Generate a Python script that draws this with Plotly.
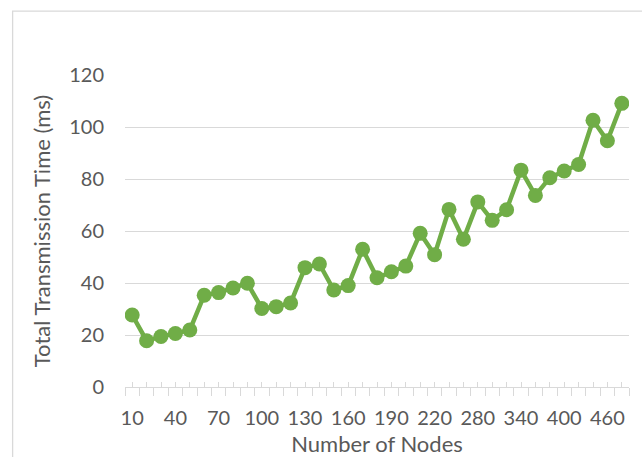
import plotly.graph_objects as go

# Node counts along the category axis and the measured transmission times (ms)
nodes = list(range(10, 230, 10)) + list(range(240, 500, 20))
times_ms = [27.7, 17.8, 19.4, 20.6, 21.9, 35.3, 36.3, 38.1, 39.9, 30.2,
            30.9, 32.3, 45.9, 47.3, 37.3, 39.0, 53.0, 42.0, 44.3, 46.5,
            59.1, 50.9, 68.3, 56.8, 71.2, 64.1, 68.2, 83.4, 73.7, 80.5,
            83.1, 85.6, 102.6, 94.7, 109.1]
label_every = 3
y_ticks = [0, 20, 40, 60, 80, 100, 120]

pos = list(range(len(nodes)))
tick_text = [str(n) if i % label_every == 0 else "" for i, n in enumerate(nodes)]
boundaries = [i - 0.5 for i in range(len(nodes) + 1)]

GREEN = "#70AD47"
GRID = "#D9D9D9"
TEXT = "#595959"
FONT = "Lato, Calibri, sans-serif"

fig = go.Figure()
fig.add_trace(go.Scatter(
    x=pos, y=times_ms, mode="lines+markers",
    line=dict(color=GREEN, width=4.5),
    marker=dict(color=GREEN, size=15),
    hoverinfo="skip", showlegend=False,
))
# invisible companion trace so the boundary-tick axis is laid out
fig.add_trace(go.Scatter(
    x=pos, y=times_ms, xaxis="x2", mode="markers",
    marker=dict(opacity=0), hoverinfo="skip", showlegend=False,
))

rng = [-0.5, len(nodes) - 0.5]
fig.update_layout(
    width=642, height=457,
    margin=dict(l=125, r=13, t=75, b=70),
    paper_bgcolor="white", plot_bgcolor="white",
    font=dict(family=FONT, color=TEXT),
    xaxis=dict(
        range=rng, tickmode="array", tickvals=pos, ticktext=tick_text,
        ticks="inside", ticklen=5, tickwidth=1.3, tickcolor=GRID,
        showline=True, linecolor=GRID, linewidth=1.3,
        showgrid=False, zeroline=False, automargin=False,
        tickfont=dict(size=20, color=TEXT, family=FONT),
        ticklabelstandoff=13,
        title=dict(text="Number of Nodes", font=dict(size=22, color=TEXT, family=FONT),
                   standoff=9),
    ),
    xaxis2=dict(
        overlaying="x", anchor="y", matches="x", range=rng,
        tickmode="array", tickvals=boundaries, automargin=False,
        ticks="outside", ticklen=8, tickwidth=1.3, tickcolor=GRID,
        showticklabels=False, showline=False, showgrid=False, zeroline=False,
    ),
    yaxis=dict(
        range=[0, 120], tickmode="array", tickvals=y_ticks,
        showgrid=True, gridcolor=GRID, gridwidth=1.3,
        zeroline=False, showline=False, ticks="", automargin=False,
        tickfont=dict(size=20, color=TEXT, family=FONT),
        ticklabelstandoff=20,
        title=dict(text="Total Transmission Time (ms)",
                   font=dict(size=22, color=TEXT, family=FONT), standoff=12),
    ),
    shapes=[dict(type="rect", xref="paper", yref="paper",
                 x0=-0.223, x1=1.2, y0=-0.5, y1=1.205,
                 line=dict(color=GRID, width=1.3), fillcolor="rgba(0,0,0,0)",
                 layer="below")],
)

fig.write_html("out.html")
